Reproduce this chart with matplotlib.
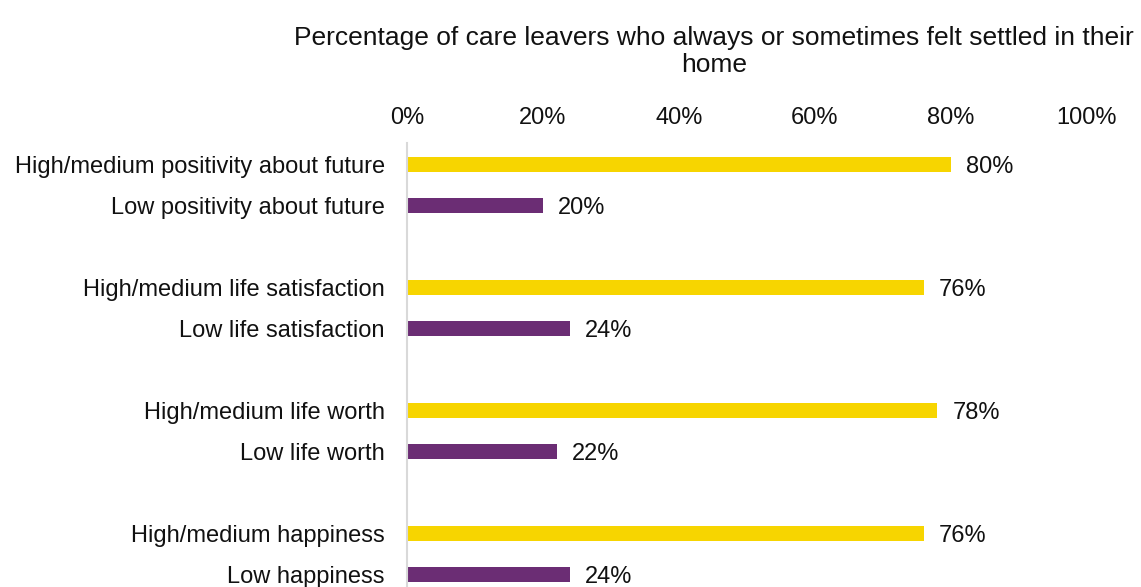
import matplotlib.pyplot as plt

plt.rcParams['font.family'] = ['Liberation Sans', 'DejaVu Sans']

categories = ['High/medium positivity about future', 'Low positivity about future',
              'High/medium life satisfaction', 'Low life satisfaction',
              'High/medium life worth', 'Low life worth',
              'High/medium happiness', 'Low happiness']
values = [80, 20, 76, 24, 78, 22, 76, 24]
positions = [0, 1, 3, 4, 6, 7, 9, 10]
colors = ['#F7D500', '#6B2D74'] * 4
xticks = [0, 20, 40, 60, 80, 100]
title_lines = ['Percentage of care leavers who always or sometimes felt settled in their', 'home']

W, H = 1141, 587
fs = 17
txt = '#111111'
fig = plt.figure(figsize=(W / 100, H / 100), dpi=100)
ax = fig.add_axes([407 / W, 0, 680 / W, 1 - 143 / H])

ax.barh(positions, values, height=0.37, color=colors)
for p, v in zip(positions, values):
    ax.text(v + 2.2, p, f'{v}%', va='center_baseline', ha='left', fontsize=fs, color=txt)

ax.set_xlim(0, 100)
ax.set_ylim(10.31, -0.52)
ax.set_yticks(positions)
ax.set_yticklabels(categories, fontsize=fs, color=txt)
ax.xaxis.tick_top()
ax.set_xticks(xticks)
ax.set_xticklabels([f'{t}%' for t in xticks], fontsize=fs, color=txt)
ax.tick_params(axis='both', length=0)
ax.tick_params(axis='x', pad=10)
ax.tick_params(axis='y', pad=16)
for s in ['top', 'right', 'bottom']:
    ax.spines[s].set_visible(False)
ax.spines['left'].set_color('#d9d9d9')
ax.spines['left'].set_linewidth(1.5)

for i, line in enumerate(title_lines):
    fig.text(714 / W, 1 - (36 + 27 * i) / H, line, ha='center', va='center_baseline',
             fontsize=19, color=txt)

fig.savefig('out.png', dpi=100)
